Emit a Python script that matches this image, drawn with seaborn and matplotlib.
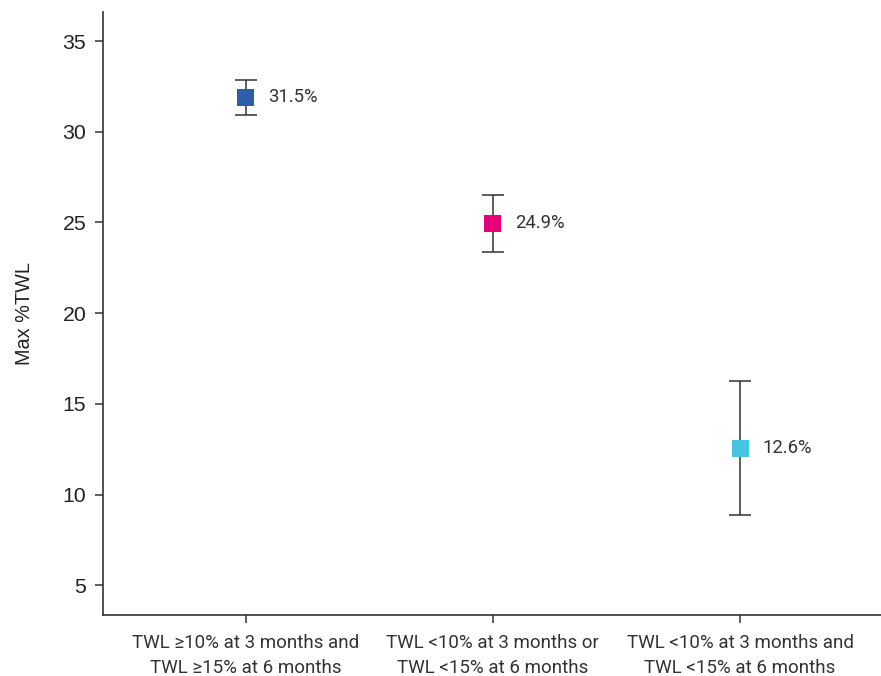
import matplotlib
matplotlib.use("Agg")
import matplotlib.pyplot as plt
import seaborn as sns
import pandas as pd

categories = [
    "TWL \u226510% at 3 months and\nTWL \u226515% at 6 months",
    "TWL <10% at 3 months or\nTWL <15% at 6 months",
    "TWL <10% at 3 months and\nTWL <15% at 6 months",
]
means = [31.9, 24.95, 12.56]
lower = [30.94, 23.38, 8.9]
upper = [32.87, 26.49, 16.27]
value_labels = ["31.5%", "24.9%", "12.6%"]
colors = ["#2E5EAA", "#E6007E", "#45C5DF"]
y_ticks = [5, 10, 15, 20, 25, 30, 35]

sns.set_theme(style="ticks")
plt.rcParams["font.family"] = ["Liberation Sans", "DejaVu Sans"]

df = pd.DataFrame({"group": categories, "value": means})

fig = plt.figure(figsize=(8.81, 6.76), dpi=100)
ax = fig.add_axes([103 / 881, 1 - 615 / 676, 1 - 103 / 881, (615 - 12) / 676])

x = list(range(len(categories)))
yerr = [[m - l for m, l in zip(means, lower)], [u - m for u, m in zip(upper, means)]]
ax.errorbar(x, means, yerr=yerr, fmt="none", ecolor="#333333",
            elinewidth=1.1, capsize=8, capthick=1.1, zorder=2)

sns.scatterplot(data=df.assign(pos=x), x="pos", y="value", hue="group",
                palette=colors, marker="s", s=150, linewidth=0,
                legend=False, ax=ax, zorder=3)

for xi, m, lab in zip(x, means, value_labels):
    ax.annotate(lab, (xi, m), xytext=(16, 0), textcoords="offset points",
                ha="left", va="center", fontsize=13.3, color="#333333",
                family=["Roboto", "DejaVu Sans"])

ax.set_xlim(-0.577, 2.57)
ax.set_ylim(3.36, 36.6)
ax.set_yticks(y_ticks)
ax.set_yticklabels([str(t) for t in y_ticks], fontsize=15.3, color="#222222",
                   family=["Liberation Sans", "DejaVu Sans"])
ax.set_xticks(x)
ax.set_xticklabels(categories, fontsize=13.5, color="#333333",
                   family=["Roboto", "DejaVu Sans"], linespacing=1.5)
ax.set_xlabel("")
ax.set_ylabel("Max %TWL", fontsize=14.3, color="#222222",
              family=["Liberation Sans", "DejaVu Sans"])
ax.yaxis.set_label_coords(-(103 - 34) / 778, 0.5)

for side in ["top", "right"]:
    ax.spines[side].set_visible(False)
for side in ["left", "bottom"]:
    ax.spines[side].set_color("#333333")
    ax.spines[side].set_linewidth(1.2)
ax.tick_params(axis="both", direction="out", length=6, width=1.1, color="#333333")
ax.tick_params(axis="y", pad=6)
ax.tick_params(axis="x", pad=8)

fig.savefig("out.png", dpi=100)
